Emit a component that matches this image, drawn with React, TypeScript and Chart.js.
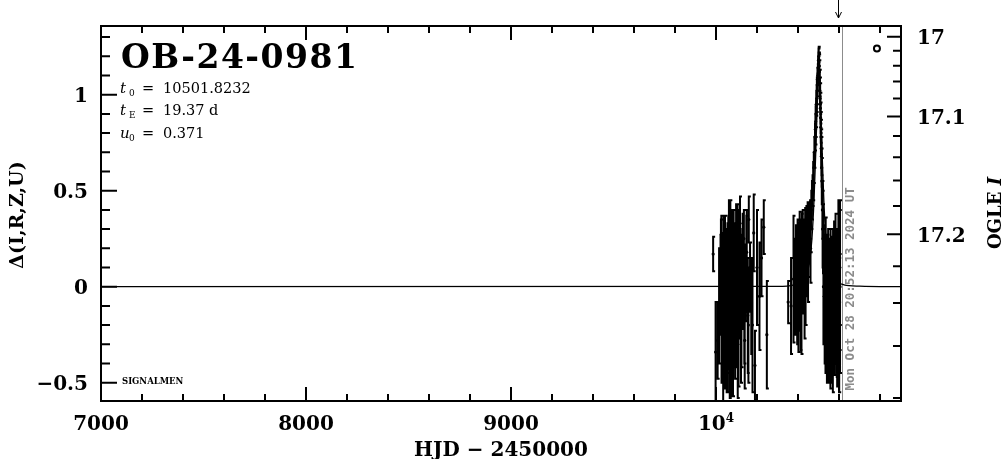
import React, { useEffect, useRef } from "react";
import { Chart, registerables } from "chart.js";

Chart.register(...registerables);

// ---------------- data ----------------
const obsT = [
  9986, 9998, 10008, 10015, 10022, 10026, 10029, 10031, 10034, 10036, 10038, 10040, 10043, 10045,
  10048, 10050, 10052, 10054, 10056, 10058, 10060, 10062, 10064, 10066, 10068, 10070, 10072, 10074,
  10076, 10078, 10080, 10082, 10084, 10087, 10090, 10092, 10095, 10098, 10100, 10103, 10106, 10108,
  10111, 10114, 10117, 10120, 10124, 10128, 10132, 10136, 10140, 10145, 10150, 10155, 10160, 10166,
  10172, 10178, 10184, 10190, 10200, 10212, 10222, 10233, 10248,
  10024, 10027, 10032, 10035, 10037, 10041, 10044, 10047, 10049, 10053, 10055, 10057, 10059, 10061,
  10063, 10065, 10067, 10069, 10071, 10073, 10075, 10077, 10079, 10081, 10083, 10086, 10089, 10093,
  10097, 10101, 10105, 10110, 10116, 10122, 10130, 10138, 10148, 10158,
  10352, 10366, 10378, 10384, 10388, 10392, 10395, 10398, 10402, 10405, 10408, 10411, 10414, 10417,
  10420, 10423, 10426, 10429, 10432, 10435, 10438, 10441, 10444, 10447, 10450, 10453, 10456, 10459,
  10462, 10465, 10468, 10471, 10474, 10477, 10480, 10483, 10486, 10489, 10492, 10495, 10498, 10500,
  10502, 10504, 10506, 10508, 10510, 10512, 10514, 10516, 10519, 10522, 10525, 10528, 10531, 10534,
  10537, 10540, 10543, 10546, 10549, 10552, 10555, 10558, 10561, 10564, 10567, 10570, 10573, 10576,
  10579, 10582, 10585, 10588, 10591, 10594, 10597, 10600, 10603, 10605,
  10383, 10390, 10396, 10400, 10404, 10410, 10413, 10419, 10425, 10431, 10437, 10443, 10449, 10455,
  10461, 10520, 10524, 10530, 10535, 10541, 10547, 10553, 10559, 10565, 10571, 10577, 10583, 10589,
  10595, 10601, 10604,
  10485, 10488, 10491, 10494, 10497, 10499, 10501, 10503, 10507, 10509, 10511, 10513, 10515,
];
const obsDelta = [
  0.17, -0.34, -0.28, -0.1, 0.17, 0.27, -0.05, -0.2, 0.1, -0.15, 0.02, 0.2, -0.25, 0.08,
  -0.05, 0.12, -0.3, 0.03, 0.18, -0.12, 0.25, -0.02, 0.1, -0.2, 0.05, 0.3, -0.08, 0.12,
  -0.35, 0.02, 0.22, -0.15, 0.08, -0.03, 0.15, -0.22, 0.05, 0.28, -0.1, 0.1, -0.3, 0.0,
  0.2, -0.12, 0.33, 0.05, -0.18, 0.12, -0.05, 0.25, -0.28, 0.02, 0.18, -0.15, 0.35, 0.05,
  -0.1, -0.2, 0.28, -0.41, 0.1, -0.05, 0.15, 0.31, -0.25,
  0.05, -0.15, 0.0, -0.3, 0.12, -0.1, 0.15, -0.2, 0.05, -0.15, 0.1, -0.25, 0.02, -0.18,
  0.15, -0.05, -0.3, 0.08, -0.12, 0.05, -0.2, 0.12, -0.08, 0.0, -0.25, 0.1, -0.05, -0.18,
  0.05, -0.1, 0.15, -0.22, 0.0, -0.15, 0.08, -0.1, 0.12, -0.2,
  -0.08, -0.1, 0.04, 0.1, -0.05, 0.15, 0.02, 0.2, -0.12, 0.08, 0.25, 0.0, 0.15, -0.1,
  0.12, 0.28, 0.05, 0.2, -0.05, 0.26, 0.1, 0.3, 0.15, 0.32, 0.2, 0.3, 0.25, 0.35,
  0.3, 0.4, 0.45, 0.5, 0.55, 0.62, 0.7, 0.78, 0.86, 0.95, 1.02, 1.08, 1.14, 1.18,
  1.17, 1.12, 1.06, 0.98, 0.88, 0.78, 0.68, 0.55, 0.4, 0.25, 0.12, -0.05, 0.12, -0.15,
  0.05, -0.1, 0.15, -0.2, 0.02, -0.08, 0.1, -0.25, 0.0, -0.12, 0.08, -0.3, -0.05, 0.12,
  -0.18, 0.02, -0.1, 0.05, -0.22, -0.02, 0.1, -0.15, -0.08, 0.0,
  0.0, 0.12, -0.05, 0.1, 0.05, 0.15, -0.08, 0.2, 0.08, 0.15, 0.05, 0.22, 0.12, 0.28,
  0.2, 0.3, 0.0, -0.1, 0.08, -0.15, 0.0, -0.2, 0.05, -0.15, 0.0, -0.1, 0.08, -0.12,
  0.0, -0.2, 0.1,
  0.82, 0.9, 0.98, 1.05, 1.1, 1.16, 1.2, 1.15, 1.02, 0.93, 0.83, 0.72, 0.62,
];
const obsErr = [
  0.09, 0.26, 0.2, 0.3, 0.1, 0.1, 0.25, 0.3, 0.18, 0.22, 0.15, 0.17, 0.28, 0.14,
  0.2, 0.12, 0.25, 0.1, 0.15, 0.18, 0.12, 0.22, 0.1, 0.2, 0.18, 0.15, 0.12, 0.2,
  0.22, 0.16, 0.14, 0.25, 0.12, 0.3, 0.18, 0.2, 0.1, 0.15, 0.18, 0.12, 0.28, 0.14,
  0.2, 0.15, 0.14, 0.22, 0.24, 0.18, 0.12, 0.15, 0.25, 0.2, 0.22, 0.3, 0.12, 0.18,
  0.25, 0.35, 0.2, 0.18, 0.3, 0.28, 0.2, 0.14, 0.28,
  0.3, 0.35, 0.28, 0.3, 0.25, 0.32, 0.22, 0.3, 0.25, 0.3, 0.2, 0.3, 0.28, 0.25,
  0.3, 0.32, 0.28, 0.25, 0.3, 0.22, 0.35, 0.28, 0.3, 0.25, 0.32, 0.3, 0.28, 0.3,
  0.25, 0.32, 0.28, 0.3, 0.25, 0.35, 0.3, 0.3, 0.25, 0.3,
  0.11, 0.25, 0.33, 0.15, 0.2, 0.12, 0.18, 0.15, 0.22, 0.1, 0.14, 0.2, 0.12, 0.25,
  0.16, 0.12, 0.18, 0.1, 0.22, 0.15, 0.14, 0.12, 0.2, 0.12, 0.15, 0.1, 0.12, 0.1,
  0.12, 0.1, 0.1, 0.08, 0.1, 0.08, 0.08, 0.07, 0.08, 0.06, 0.07, 0.06, 0.05, 0.06,
  0.05, 0.06, 0.07, 0.08, 0.08, 0.09, 0.1, 0.12, 0.15, 0.18, 0.2, 0.25, 0.15, 0.3,
  0.2, 0.25, 0.12, 0.3, 0.18, 0.22, 0.15, 0.28, 0.2, 0.25, 0.18, 0.25, 0.2, 0.22,
  0.28, 0.15, 0.3, 0.25, 0.3, 0.2, 0.35, 0.4, 0.25, 0.45,
  0.25, 0.2, 0.25, 0.22, 0.28, 0.2, 0.25, 0.18, 0.22, 0.2, 0.25, 0.15, 0.2, 0.15,
  0.18, 0.2, 0.3, 0.3, 0.28, 0.35, 0.3, 0.3, 0.25, 0.35, 0.3, 0.3, 0.3, 0.35,
  0.3, 0.35, 0.3,
  0.08, 0.07, 0.07, 0.06, 0.05, 0.06, 0.05, 0.06, 0.07, 0.08, 0.08, 0.1, 0.1,
];

const modelT = [7000, 10300, 10380, 10420, 10440, 10455, 10468, 10478, 10486, 10492, 10497, 10502, 10507, 10512, 10518, 10526, 10536, 10549, 10564, 10584, 10624, 10700, 10905];
const modelDelta = [0, 0.002, 0.01, 0.03, 0.06, 0.12, 0.25, 0.45, 0.68, 0.88, 1.06, 1.2, 1.06, 0.88, 0.68, 0.45, 0.25, 0.12, 0.06, 0.03, 0.01, 0.003, 0];

const markerT = [10785];
const markerDelta = [1.24];

const xMajorTicks = [7000, 8000, 9000, 10000];
const xMinorStep = 200;
const yMajorTicks = [-0.5, 0, 0.5, 1];
const yMinorStep = 0.1;
const magMajorTicks = [17, 17.1, 17.2];
const magMinorStep = 0.02;

const nowT = 10612.37;
const arrowT = 10597;
const nowLabel = "Mon Oct 28 20:52:13 2024 UT";
const eventName = "OB-24-0981";
const t0Text = "10501.8232";
const tEText = "19.37 d";
const u0Text = "0.371";

const X_MIN = 7000;
const X_MAX = 10902.4;
const Y_MIN = -0.5953;
const Y_MAX = 1.3578;

// magnitude -> Delta mapping of the right-hand axis (fitted to the reference)
const magToDelta = (m: number) => 2.6125 + 1.3073 * Math.log(17.367 - m);

const SERIF_B = "bold 20px 'DejaVu Serif'";
const MINUS = "\u2212";

const fmt = (v: number) => (v < 0 ? MINUS + String(Math.abs(v)) : String(v));

const framePlugin = {
  id: "frame",
  beforeDatasetsDraw(chart: any) {
    const { ctx, chartArea, scales } = chart;
    const xs = scales.x, ys = scales.y;
    // now line
    ctx.save();
    ctx.strokeStyle = "#8c8c8c";
    ctx.lineWidth = 1;
    const nx = Math.round(xs.getPixelForValue(nowT)) + 0.5;
    ctx.beginPath();
    ctx.moveTo(nx, chartArea.top);
    ctx.lineTo(nx, chartArea.bottom);
    ctx.stroke();
    ctx.restore();

    // error bars
    ctx.save();
    ctx.beginPath();
    ctx.rect(chartArea.left, chartArea.top, chartArea.right - chartArea.left, chartArea.bottom - chartArea.top);
    ctx.clip();
    ctx.strokeStyle = "#000";
    ctx.lineWidth = 2;
    ctx.beginPath();
    for (let i = 0; i < obsT.length; i++) {
      const px = xs.getPixelForValue(obsT[i]);
      const y1 = ys.getPixelForValue(obsDelta[i] + obsErr[i]);
      const y2 = ys.getPixelForValue(obsDelta[i] - obsErr[i]);
      ctx.moveTo(px, y1);
      ctx.lineTo(px, y2);
      ctx.moveTo(px - 1, y1);
      ctx.lineTo(px + 2, y1);
      ctx.moveTo(px - 1, y2);
      ctx.lineTo(px + 2, y2);
    }
    ctx.stroke();
    ctx.restore();
  },
  afterDraw(chart: any) {
    const { ctx, chartArea, scales } = chart;
    const xs = scales.x, ys = scales.y;
    const L = chartArea.left, R = chartArea.right, T = chartArea.top, B = chartArea.bottom;
    ctx.save();
    ctx.strokeStyle = "#000";
    ctx.fillStyle = "#000";
    ctx.lineWidth = 2;
    ctx.strokeRect(L, T, R - L, B - T);

    ctx.beginPath();
    // x ticks (bottom and top)
    for (let v = X_MIN; v <= X_MAX; v += xMinorStep) {
      const px = xs.getPixelForValue(v);
      const len = xMajorTicks.includes(v) ? 14 : 7;
      ctx.moveTo(px, B);
      ctx.lineTo(px, B - len);
      ctx.moveTo(px, T);
      ctx.lineTo(px, T + len);
    }
    // left y ticks
    for (let k = Math.ceil(Y_MIN / yMinorStep); k * yMinorStep <= Y_MAX; k++) {
      const v = Math.round(k * yMinorStep * 10) / 10;
      const py = ys.getPixelForValue(v);
      const len = yMajorTicks.includes(v) ? 16 : 9;
      ctx.moveTo(L, py);
      ctx.lineTo(L + len, py);
    }
    // right magnitude ticks
    for (let k = 0; k <= 20; k++) {
      const m = Math.round((magMajorTicks[0] + k * magMinorStep) * 100) / 100;
      const d = magToDelta(m);
      if (!isFinite(d) || d < Y_MIN || d > Y_MAX) continue;
      const py = ys.getPixelForValue(d);
      const len = magMajorTicks.includes(m) ? 14 : 8;
      ctx.moveTo(R, py);
      ctx.lineTo(R - len, py);
    }
    ctx.stroke();

    // tick labels
    ctx.font = SERIF_B;
    ctx.textBaseline = "alphabetic";
    ctx.textAlign = "center";
    for (const v of xMajorTicks) {
      const px = xs.getPixelForValue(v);
      if (v === 10000) {
        ctx.textAlign = "left";
        const w = ctx.measureText("10").width;
        ctx.font = "bold 12px 'DejaVu Serif'";
        const w2 = ctx.measureText("4").width;
        const sx = px - (w + w2) / 2;
        ctx.fillText("4", sx + w, 422);
        ctx.font = SERIF_B;
        ctx.fillText("10", sx, 430);
        ctx.textAlign = "center";
      } else {
        ctx.fillText(String(v), px, 430);
      }
    }
    ctx.textAlign = "right";
    for (const v of yMajorTicks) {
      ctx.fillText(fmt(v), 88, ys.getPixelForValue(v) + 7.5);
    }
    ctx.textAlign = "left";
    for (const m of magMajorTicks) {
      ctx.fillText(String(m), 917, ys.getPixelForValue(magToDelta(m)) + 7.5);
    }

    // axis titles
    ctx.textAlign = "center";
    ctx.fillText("HJD " + MINUS + " 2450000", 501, 456);
    ctx.save();
    ctx.translate(23, 215);
    ctx.rotate(-Math.PI / 2);
    ctx.font = "bold 19px 'DejaVu Serif'";
    ctx.fillText("\u0394(I,R,Z,U)", 0, 0);
    ctx.restore();
    ctx.save();
    ctx.translate(1001, 213);
    ctx.rotate(-Math.PI / 2);
    ctx.font = "bold 18px 'DejaVu Serif'";
    const w1 = ctx.measureText("OGLE ").width;
    ctx.font = "bold italic 18px 'DejaVu Serif'";
    const w2 = ctx.measureText("I").width;
    ctx.textAlign = "left";
    ctx.font = "bold 18px 'DejaVu Serif'";
    ctx.fillText("OGLE ", -(w1 + w2) / 2, 0);
    ctx.font = "bold italic 18px 'DejaVu Serif'";
    ctx.fillText("I", -(w1 + w2) / 2 + w1, 0);
    ctx.restore();

    // event name and parameters
    ctx.textAlign = "left";
    ctx.font = "bold 33px 'DejaVu Serif'";
    (ctx as any).letterSpacing = "1.5px";
    ctx.fillText(eventName, 121, 68);
    (ctx as any).letterSpacing = "0px";
    const rows: [string, string, string, number][] = [
      ["t", "0", t0Text, 93],
      ["t", "E", tEText, 115],
      ["u", "0", u0Text, 137.5],
    ];
    for (const [v, sub, val, by] of rows) {
      ctx.font = "italic 15px 'DejaVu Serif'";
      ctx.fillText(v, 120, by);
      ctx.font = "9px 'DejaVu Serif'";
      ctx.fillText(sub, 129, by + 3);
      ctx.font = "14.5px 'DejaVu Serif'";
      ctx.fillText("=", 142, by);
      ctx.fillText(val, 163, by);
    }
    ctx.font = "bold 8.5px 'DejaVu Serif'";
    ctx.fillText("SIGNALMEN", 122, 384);

    // arrow at top
    const ax = Math.round(xs.getPixelForValue(arrowT)) + 0.5;
    ctx.lineWidth = 1;
    ctx.beginPath();
    ctx.moveTo(ax, 0);
    ctx.lineTo(ax, 18);
    ctx.moveTo(ax - 3, 12);
    ctx.lineTo(ax, 18);
    ctx.lineTo(ax + 3, 12);
    ctx.stroke();

    // rotated date text
    const nx = xs.getPixelForValue(nowT);
    ctx.save();
    ctx.translate(nx + 12, 390.5);
    ctx.rotate(-Math.PI / 2);
    ctx.fillStyle = "#8c8c8c";
    ctx.font = "bold 12.5px 'DejaVu Sans Mono'";
    ctx.textAlign = "left";
    ctx.fillText(nowLabel, 0, 0);
    ctx.restore();

    ctx.restore();
  },
};

export default function App() {
  const ref = useRef<HTMLCanvasElement | null>(null);
  useEffect(() => {
    document.body.style.margin = "0";
    const canvas = ref.current;
    if (!canvas) return;
    const chart = new Chart(canvas, {
      type: "scatter",
      data: {
        datasets: [
          {
            type: "line",
            label: "model",
            data: modelT.map((t, i) => ({ x: t, y: modelDelta[i] })),
            borderColor: "#000",
            borderWidth: 1.3,
            pointRadius: 0,
            cubicInterpolationMode: "monotone",
            fill: false,
            order: 1,
          } as any,
          {
            label: "OGLE I",
            data: obsT.map((t, i) => ({ x: t, y: obsDelta[i] })),
            backgroundColor: "#000",
            borderColor: "#000",
            borderWidth: 0,
            pointRadius: 1.6,
            order: 2,
          },
          {
            label: "marker",
            data: markerT.map((t, i) => ({ x: t, y: markerDelta[i] })),
            backgroundColor: "rgba(0,0,0,0)",
            borderColor: "#000",
            borderWidth: 2,
            pointRadius: 3,
            order: 3,
          },
        ],
      },
      options: {
        responsive: false,
        animation: false,
        devicePixelRatio: 1,
        layout: { padding: { left: 101, right: 103, top: 26, bottom: 58 } },
        plugins: { legend: { display: false }, tooltip: { enabled: false } },
        scales: {
          x: { type: "linear", display: false, min: X_MIN, max: X_MAX },
          y: { type: "linear", display: false, min: Y_MIN, max: Y_MAX },
        },
      },
      plugins: [framePlugin],
    });
    return () => chart.destroy();
  }, []);
  return (
    <div style={{ position: "absolute", left: 0, top: 0, width: 1004, height: 459, background: "#fff" }}>
      <canvas ref={ref} width={1004} height={459} />
    </div>
  );
}
